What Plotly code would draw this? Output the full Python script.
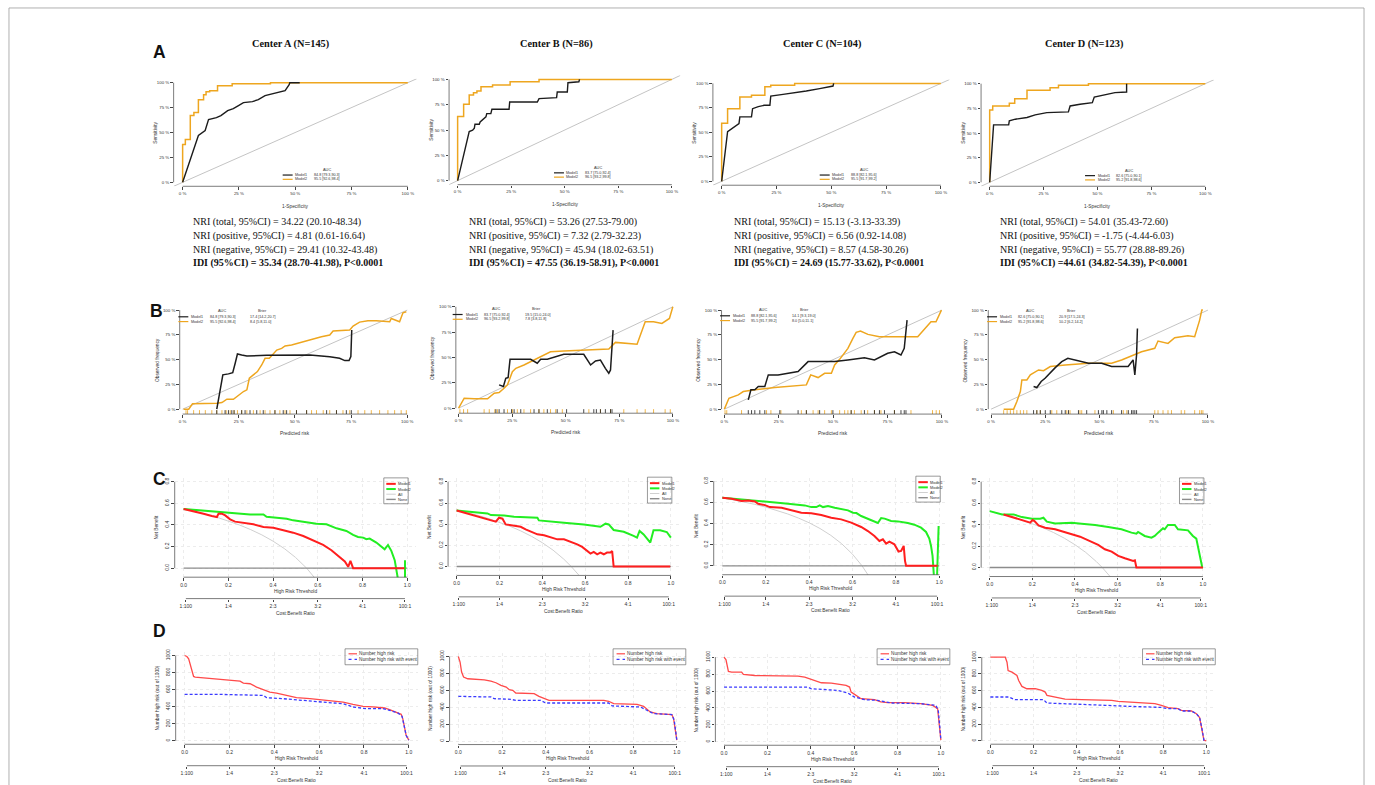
import plotly.graph_objects as go

W, H = 1375, 785
SANS = "Liberation Sans, Arial, sans-serif"
SERIF = "Liberation Serif, Times New Roman, serif"

# ======================= TEXT =======================
panel_letters = ["A", "B", "C", "D"]
center_titles = ["Center A (N=145)", "Center B (N=86)", "Center C (N=104)", "Center D (N=123)"]
nri_total_txt = ["NRI (total, 95%CI) = 34.22 (20.10-48.34)", "NRI (total, 95%CI) = 53.26 (27.53-79.00)",
                 "NRI (total, 95%CI) = 15.13 (-3.13-33.39)", "NRI (total, 95%CI) = 54.01 (35.43-72.60)"]
nri_pos_txt = ["NRI (positive, 95%CI) = 4.81 (0.61-16.64)", "NRI (positive, 95%CI) = 7.32 (2.79-32.23)",
               "NRI (positive, 95%CI) = 6.56 (0.92-14.08)", "NRI (positive, 95%CI) = -1.75 (-4.44-6.03)"]
nri_neg_txt = ["NRI (negative, 95%CI) = 29.41 (10.32-43.48)", "NRI (negative, 95%CI) = 45.94 (18.02-63.51)",
               "NRI (negative, 95%CI) = 8.57 (4.58-30.26)", "NRI (negative, 95%CI) = 55.77 (28.88-89.26)"]
idi_txt = ["IDI (95%CI) = 35.34 (28.70-41.98), P&lt;0.0001", "IDI (95%CI) = 47.55 (36.19-58.91), P&lt;0.0001",
           "IDI (95%CI) = 24.69 (15.77-33.62), P&lt;0.0001", "IDI (95%CI) =44.61 (34.82-54.39), P&lt;0.0001"]
auc_m1 = ["84.8 [79.3,90.3]", "83.7 [75.0,92.4]", "88.8 [82.1,95.6]", "82.6 [75.0,90.1]"]
auc_m2 = ["95.5 [92.6,98.4]", "96.5 [93.2,99.8]", "95.5 [91.7,99.2]", "95.2 [91.8,98.6]"]
brier_m1 = ["17.4 [14.2,20.7]", "19.5 [15.0,24.0]", "14.1 [9.3,19.0]", "20.9 [17.5,24.3]"]
brier_m2 = ["8.4 [5.8,11.0]", "7.8 [3.8,11.8]", "8.0 [5.0,11.1]", "10.2 [6.2,14.2]"]

# ======================= ROC (percent) =======================
roc_ticks = [0, 25, 50, 75, 100]
roc_labels = ["0 %", "25 %", "50 %", "75 %", "100 %"]
roc_range = [-4, 104]
diag_ref = [0, 100]

roc_a_m1_fpr = [0, 7, 10, 11.5, 15, 17, 20, 22.5, 24.8, 27, 31, 33.6, 36.6, 40, 43, 45.5, 47.3, 47.6, 52]
roc_a_m1_tpr = [0, 47, 52, 63, 65, 67, 72, 74, 77, 80, 81, 83, 87, 89, 90, 92, 98, 100, 100]
roc_a_m2_fpr = [0, 0, 1.2, 3.4, 5, 7, 9.3, 10.4, 12, 15.5, 22, 39, 100]
roc_a_m2_tpr = [0, 38, 43, 67, 70, 83, 88, 91, 92, 97, 99, 100, 100]

roc_b_m1_fpr = [0, 5.4, 7, 7.8, 8.1, 10.1, 10.5, 12.1, 13.2, 13.6, 15.5, 16, 24, 24.3, 37.2, 38, 46.2, 46.5, 51.2, 51.5, 56.6, 56.9]
roc_b_m1_tpr = [0, 48.5, 49.8, 51.8, 55.7, 55.7, 58, 60.7, 63, 66.2, 66.2, 70.5, 70.5, 77.7, 77.7, 81, 82, 87.5, 87.5, 96.7, 97.7, 100]
roc_b_m2_fpr = [0, 0, 2.8, 5.4, 7.4, 9, 10.9, 16.3, 24.5, 38, 100]
roc_b_m2_tpr = [0, 63.3, 75.4, 84.6, 86.9, 88.5, 92.8, 94.4, 97.7, 100, 100]

roc_c_m1_fpr = [0, 2.7, 7.9, 8.3, 13.6, 14.1, 16.7, 19.4, 22, 22.4, 28, 34.1, 38.6, 44.7, 50.8, 51.1]
roc_c_m1_tpr = [0, 50.8, 59, 65.8, 65.8, 74.2, 76.3, 77.6, 77.6, 87.1, 88.8, 90.5, 92.2, 94.6, 97.3, 100]
roc_c_m2_fpr = [0, 0, 2.7, 8.3, 13.6, 19.7, 22.4, 33.3, 100]
roc_c_m2_tpr = [0, 59.3, 74.2, 86.1, 87.8, 96.6, 98, 100, 100]

roc_d_m1_fpr = [0, 1.8, 8.8, 9.1, 11.9, 17.3, 21.1, 26.5, 36.5, 37.3, 41.9, 47.6, 48.5, 53.5, 58.1, 63.5, 63.5]
roc_d_m1_tpr = [0, 58.2, 58.2, 62.3, 64, 65.7, 68.4, 70.7, 71.4, 77.4, 79.1, 80.8, 86.5, 88.6, 90.9, 91.6, 100]
roc_d_m2_fpr = [0, 0, 1.4, 9.1, 11.6, 17.3, 28, 31.9, 45.8, 100]
roc_d_m2_tpr = [0, 73.4, 77.4, 80.1, 84.8, 93.3, 96, 98.3, 100, 100]

# ======================= Calibration (percent) =======================
cal_xrange = [-1.3, 101.3]
cal_yrange = [-5, 104]
cal_a_m1_x = [15.2, 16.4, 17.9, 20.4, 22.3, 23.4, 24.4, 26.3, 28.6, 37.4, 44.8, 56.7, 65.5, 69.9, 72.2, 74.1, 74.9, 75.3]
cal_a_m1_y = [0, 16.1, 34.6, 35.6, 36.9, 46.3, 55.7, 54.7, 53.7, 54.4, 54.7, 54.7, 53, 51.3, 49, 49, 53, 79.9]
cal_a_m2_x = [0.4, 2.7, 4.4, 7.1, 11.5, 15.2, 17.5, 19.7, 22.6, 24.1, 25.6, 27.1, 28.6, 29.7, 31.5, 33.3, 35.2, 36.7, 38.6,
              40.1, 41.9, 44.1, 45.6, 48.5, 52.2, 56.7, 61.8, 65.5, 67, 74.4, 75.9, 78.8, 82.5, 86.2, 92.2, 92.9, 96.6, 98.1, 99.6]
cal_a_m2_y = [0, 0, 5.4, 5.4, 5.4, 6, 6.7, 10, 10, 12.8, 15.1, 17.8, 19.5, 31.2, 34.6, 37.9, 44.6, 51.3, 51.3,
              54.7, 59.7, 61.4, 63.8, 64.8, 67.1, 70.5, 73.2, 74.8, 78.9, 79.9, 83.9, 87.9, 89.3, 89.3, 88.3, 91.6, 88.3, 97.3, 98.3]
rug_a_m1 = [15.2, 18.9, 20.4, 21.9, 22.9, 26.3, 27.8, 30, 33, 35.9, 41.1, 44.8, 46.3, 50.7, 55.2, 64.1, 68.5, 72.9, 75.1]
rug_a_m2 = [1.5, 2.2, 4.9, 7.5, 10.1, 13, 15.2, 17.5, 19.4, 21.2, 22.9, 24.4, 26.3, 28.6, 31.5, 34.5, 36.7, 38.9, 41.1, 43.3,
            45.6, 47.8, 50.7, 55.2, 57.4, 59.6, 62.6, 65.5, 68.5, 71.4, 74.4, 78.1, 81.1, 84, 87.7, 91.4, 94.4, 97.3, 99.6]

cal_b_m1_x = [18.9, 20.9, 22, 23.1, 24, 30.5, 33.6, 36.7, 38.3, 41.4, 46, 49.1, 58.4, 61.6, 63.9, 66.2, 68.5, 70.1, 70.9, 71.6, 72.1]
cal_b_m1_y = [23, 21.3, 29.5, 30.2, 48.2, 48.2, 48.2, 44.3, 48.2, 48.2, 50.8, 53.1, 53.1, 42.6, 46.6, 47.5, 39.3, 34.4, 37.7, 59, 77]
cal_b_m2_x = [0, 2.6, 7.3, 13.5, 16.6, 18.9, 21.2, 22.8, 25.1, 26.7, 30.5, 36.7, 39.8, 42.9, 49.1, 61.6, 70.1, 73.2, 83.3, 87.1, 91, 94.9, 98.4, 100]
cal_b_m2_y = [0, 9.8, 9.2, 9.2, 14.8, 15.4, 19.7, 23, 36, 39.3, 42.6, 49.2, 52.5, 55.7, 56.4, 57.4, 58.4, 64.9, 63, 85.2, 85.2, 83.6, 88.5, 100]
rug_b_m1 = [17.4, 18.9, 21.2, 24.7, 25.9, 29, 35.2, 37.5, 41.4, 46, 50.4, 58.4, 63.1, 64.3, 66.2, 68.5, 70.9, 71.6]
rug_b_m2 = [0.6, 2.3, 4.2, 11.9, 14.3, 16.9, 18.1, 22.8, 25.1, 27.4, 30.5, 33.6, 37.5, 39.8, 42.9, 45.3, 48.4,
            60.8, 66.2, 70.9, 77.1, 83.3, 87.1, 91, 96.4, 98.8]

cal_c_m1_x = [11, 12.2, 14, 15.6, 18.6, 20.2, 24.7, 33.9, 38.5, 44.6, 50.7, 56.8, 64.4, 69, 75.1, 78.2, 81.2, 82.7, 84]
cal_c_m1_y = [9.4, 19.5, 19.5, 22.8, 22.8, 34.6, 34.6, 37.9, 48, 48, 48, 49.7, 52, 49.7, 56.4, 58, 54.7, 61.4, 89.9]
cal_c_m2_x = [0, 2.1, 6.4, 8.7, 14, 23.2, 37.7, 39.7, 43.1, 46.1, 49.2, 50.7, 53, 56.8, 59.1, 60.6, 62.6, 66, 71.3, 78.2, 88.9, 95, 97.3, 99.8]
cal_c_m2_y = [0, 11, 14.4, 17.8, 19.5, 21.8, 24.5, 34.6, 31.9, 36.2, 36.2, 44.6, 50.3, 61.4, 71.5, 77.5, 78.9, 75.5, 73.2, 73.2, 73.2, 88.3, 88.3, 100]
rug_c_m1 = [11, 12.5, 14, 16.3, 18.6, 25.5, 33.9, 37.7, 43.8, 49.9, 58.3, 64.4, 69, 71.3, 73.6, 78.2, 81.2, 82.7, 83.5]
rug_c_m2 = [0.3, 1.1, 7.9, 19.4, 21.4, 26, 35.4, 37.7, 40.8, 43.1, 46.1, 49.2, 53, 55.3, 56.8, 58.3, 59.8, 62.9, 65.9,
            69, 72, 78.2, 85.8, 95.7, 97.4, 98.9]

cal_d_m1_x = [19.6, 21.1, 23.1, 24.9, 29.6, 32.6, 35.4, 38.7, 44.9, 51, 55.6, 63.2, 65.5, 66.3, 67.1, 67.5]
cal_d_m1_y = [22.8, 21.8, 27.9, 31.2, 41.9, 48, 51.3, 49.7, 46.3, 46.3, 43, 43, 49.7, 34.6, 54.7, 81.5]
cal_d_m2_x = [5.8, 10.4, 11.9, 13.5, 14.2, 16.5, 18.1, 21.9, 24.2, 27.3, 34.2, 44.9, 55.6, 60.2, 69.4, 75.5, 77, 81.6, 84.7, 90.8, 93.9, 96.2, 97.2, 97.7]
cal_d_m2_y = [0, 0, 7.7, 17.8, 29.5, 29.5, 34.6, 39.6, 38.9, 43, 44.6, 46.3, 46.3, 49.7, 58, 61.4, 68.8, 66.4, 72.1, 74.2, 73.2, 89.9, 100, 100]
rug_d_m1 = [19.6, 21.1, 22.7, 25, 27.3, 32.6, 34.2, 35.7, 40.3, 44.1, 49.5, 51.1, 51.8, 53.4, 55.6, 60.2, 63.3, 64.8, 65.5, 66.3, 67.1]
rug_d_m2 = [5.8, 7.4, 8.9, 10.4, 11.9, 13.5, 15, 16.5, 21.1, 22.7, 28, 30.3, 34.9, 36.4, 41, 41.8, 47.9, 56.4, 61, 62.6,
            75.5, 77, 79.3, 81.6, 83.2, 87.7, 89.3, 93.9, 96.2, 97, 97.7]

# ======================= Decision curves =======================
thr_ticks = [0, 0.2, 0.4, 0.6, 0.8, 1.0]
thr_labels = ["0.0", "0.2", "0.4", "0.6", "0.8", "1.0"]
nb_ticks = [0, 0.2, 0.4, 0.6, 0.8]
nb_labels = ["0.0", "0.2", "0.4", "0.6", "0.8"]
cb_ticks = [0.01, 0.2, 0.4, 0.6, 0.8, 0.99]
cb_labels = ["1:100", "1:4", "2:3", "3:2", "4:1", "100:1"]
none_thr = [0, 1]
none_nb = [0, 0]

dca_a_m1_t = [0, .045, .089, .126, .149, .156, .171, .186, .208, .230, .267, .312, .357, .401, .446, .490, .535, .580, .624, .661, .691, .721, .736, .746, .758, .988]
dca_a_m1_nb = [.549, .529, .505, .483, .474, .505, .505, .489, .452, .431, .422, .406, .382, .375, .351, .329, .298, .258, .215, .166, .114, .062, .012, .068, 0, 0]
dca_a_m2_t = [0, .074, .149, .223, .297, .357, .371, .416, .461, .490, .535, .594, .639, .684, .728, .758, .780, .803, .817, .832, .862, .892, .899, .914, .929, .944, .951, .963, .975, .99, .99]
dca_a_m2_nb = [.549, .537, .522, .508, .498, .498, .477, .468, .458, .443, .428, .412, .406, .369, .345, .308, .289, .283, .268, .274, .237, .191, .175, .215, .160, .074, 0, -.09, -.3, -.3, .074]
dca_a_all_t = [0, .05, .1, .15, .2, .25, .3, .35, .4, .45, .5, .525, .55, .6]
dca_a_all_nb = [.55, .526, .50, .471, .4375, .40, .357, .308, .25, .182, .10, .053, 0, -.125]

dca_b_m1_t = [0, .082, .129, .183, .198, .214, .229, .267, .299, .322, .346, .377, .408, .439, .470, .501, .532, .563, .586, .609, .625, .640, .656, .671, .687, .702, .718, .726, .733, .997]
dca_b_m1_nb = [.530, .483, .455, .424, .461, .452, .398, .389, .376, .351, .329, .304, .295, .279, .257, .257, .235, .210, .185, .147, .122, .138, .116, .132, .116, .132, .132, .147, 0, 0]
dca_b_m2_t = [0, .082, .144, .160, .222, .268, .299, .377, .384, .408, .439, .501, .594, .671, .695, .710, .733, .780, .826, .842, .854, .873, .904, .919, .950, .981, 1.0]
dca_b_m2_nb = [.530, .515, .502, .486, .483, .471, .467, .461, .436, .430, .424, .414, .398, .376, .405, .398, .345, .329, .289, .273, .336, .304, .226, .342, .342, .326, .273]
dca_b_all_t = [0, .05, .1, .15, .2, .25, .3, .35, .4, .45, .5, .535, .57]
dca_b_all_nb = [.535, .511, .483, .453, .419, .38, .336, .285, .225, .155, .07, 0, -.08]

dca_c_m1_t = [0, .043, .089, .119, .150, .165, .196, .219, .273, .318, .364, .41, .456, .502, .548, .594, .640, .671, .701, .724, .740, .755, .770, .793, .812, .824, .836, .842, .847, .992]
dca_c_m1_nb = [.643, .634, .612, .618, .608, .587, .574, .555, .549, .524, .502, .496, .480, .455, .439, .408, .367, .329, .282, .235, .251, .210, .229, .204, .135, .141, .188, .047, 0, 0]
dca_c_m2_t = [0, .089, .196, .303, .380, .410, .433, .449, .464, .487, .518, .564, .579, .602, .618, .640, .686, .717, .732, .748, .778, .809, .855, .885, .916, .939, .954, .962, .969, .977, .989, .995, .997]
dca_c_m2_nb = [.643, .628, .606, .587, .571, .555, .555, .571, .555, .565, .549, .533, .524, .502, .499, .471, .430, .405, .452, .446, .424, .420, .405, .389, .361, .320, .257, .188, .094, -.15, -.15, .267, .377]
dca_c_all_t = [0, .05, .1, .15, .2, .25, .3, .35, .4, .45, .5, .55, .6, .644, .68]
dca_c_all_nb = [.644, .625, .604, .581, .555, .525, .491, .452, .407, .353, .288, .209, .11, 0, -.112]

dca_d_m1_t = [.065, .112, .151, .190, .201, .210, .229, .260, .307, .338, .385, .424, .447, .478, .509, .540, .572, .603, .634, .657, .673, .681, .688, 1.0]
dca_d_m1_nb = [.496, .465, .443, .419, .443, .434, .394, .372, .357, .341, .310, .288, .264, .239, .211, .171, .149, .109, .087, .068, .062, .068, 0, 0]
dca_d_m2_t = [0, .058, .112, .151, .198, .237, .252, .268, .307, .354, .385, .431, .494, .556, .618, .665, .688, .696, .727, .759, .774, .790, .805, .813, .821, .836, .868, .883, .930, .953, .969, .984, .997]
dca_d_m2_nb = [.527, .496, .496, .471, .456, .456, .465, .428, .412, .412, .419, .409, .397, .378, .357, .326, .316, .332, .295, .279, .295, .326, .347, .366, .357, .397, .397, .357, .347, .295, .270, .124, 0]
dca_d_all_t = [0, .05, .1, .15, .2, .25, .3, .35, .4, .45, .5, .528, .565, .58]
dca_d_all_nb = [.528, .503, .476, .445, .41, .371, .326, .274, .213, .142, .056, 0, -.085, -.124]

# ======================= Clinical impact =======================
ci_ticks = [0, 200, 400, 600, 800, 1000]
ci_labels = ["0", "200", "400", "600", "800", "1000"]

ci_a_hr_t = [0, .01, .018, .025, .033, .04, .047, .084, .144, .188, .233, .247, .262, .292, .321, .351, .38, .41, .455, .499, .559, .618, .661, .707, .751, .796, .84, .892, .914, .944, .966, .973, .981, .988, 1.0]
ci_a_hr = [1000, 988, 961, 903, 825, 755, 747, 739, 728, 716, 708, 700, 677, 669, 630, 603, 572, 560, 533, 506, 494, 482, 467, 455, 428, 405, 397, 385, 366, 339, 311, 261, 163, 66, 8]
ci_a_ev_t = [0, .144, .351, .366, .44, .514, .588, .661, .707, .751, .81, .884, .914, .951, .97, .981, .988, 1.0]
ci_a_ev = [545, 545, 533, 506, 494, 475, 455, 444, 436, 397, 377, 377, 358, 327, 288, 163, 66, 8]

ci_b_hr_t = [0, .008, .015, .024, .043, .119, .149, .172, .195, .219, .233, .249, .263, .347, .369, .392, .415, .666, .688, .711, .818, .848, .878, .909, .977, .985, .992, 1.0]
ci_b_hr = [1000, 933, 816, 757, 737, 725, 710, 690, 659, 639, 608, 600, 569, 561, 529, 510, 482, 482, 471, 443, 435, 412, 345, 325, 314, 267, 169, 12]
ci_b_ev_t = [0, .149, .164, .24, .263, .377, .40, .688, .704, .833, .863, .894, .977, .988, .994, 1.0]
ci_b_ev = [529, 522, 502, 494, 482, 482, 451, 451, 416, 404, 365, 325, 314, 247, 129, 12]

ci_c_hr_t = [0, .009, .02, .035, .081, .089, .142, .341, .372, .403, .433, .449, .495, .54, .563, .579, .586, .602, .632, .694, .723, .755, .832, .908, .962, .985, .992, 1.0]
ci_c_hr = [1000, 969, 831, 824, 824, 796, 784, 776, 765, 737, 706, 698, 694, 678, 667, 647, 588, 561, 510, 498, 471, 463, 463, 451, 431, 392, 216, 20]
ci_c_ev_t = [0, .387, .403, .479, .525, .571, .602, .648, .709, .77, .908, .977, .988, .995, 1.0]
ci_c_ev = [647, 647, 627, 620, 608, 576, 529, 498, 490, 459, 451, 431, 373, 176, 20]

ci_d_hr_t = [0, .069, .077, .082, .1, .123, .131, .146, .169, .208, .238, .254, .262, .3, .346, .423, .562, .592, .638, .7, .762, .792, .823, .869, .885, .931, .954, .969, .98, .989, 1.0]
ci_d_hr = [1000, 1000, 940, 841, 821, 782, 722, 651, 623, 623, 603, 583, 544, 524, 500, 492, 484, 472, 464, 452, 444, 425, 397, 385, 365, 357, 325, 278, 147, 8, 0]
ci_d_ev_t = [0, .085, .115, .246, .262, .377, .531, .638, .7, .792, .823, .869, .885, .931, .954, .969, .98, .989, 1.0]
ci_d_ev = [524, 524, 492, 492, 452, 444, 425, 413, 405, 400, 385, 385, 357, 357, 325, 278, 147, 8, 0]

# ======================= COLLECTIONS =======================
roc_series = [(roc_a_m1_fpr, roc_a_m1_tpr, roc_a_m2_fpr, roc_a_m2_tpr),
              (roc_b_m1_fpr, roc_b_m1_tpr, roc_b_m2_fpr, roc_b_m2_tpr),
              (roc_c_m1_fpr, roc_c_m1_tpr, roc_c_m2_fpr, roc_c_m2_tpr),
              (roc_d_m1_fpr, roc_d_m1_tpr, roc_d_m2_fpr, roc_d_m2_tpr)]
cal_series = [(cal_a_m1_x, cal_a_m1_y, cal_a_m2_x, cal_a_m2_y, rug_a_m1, rug_a_m2),
              (cal_b_m1_x, cal_b_m1_y, cal_b_m2_x, cal_b_m2_y, rug_b_m1, rug_b_m2),
              (cal_c_m1_x, cal_c_m1_y, cal_c_m2_x, cal_c_m2_y, rug_c_m1, rug_c_m2),
              (cal_d_m1_x, cal_d_m1_y, cal_d_m2_x, cal_d_m2_y, rug_d_m1, rug_d_m2)]
dca_series = [(dca_a_m1_t, dca_a_m1_nb, dca_a_m2_t, dca_a_m2_nb, dca_a_all_t, dca_a_all_nb),
              (dca_b_m1_t, dca_b_m1_nb, dca_b_m2_t, dca_b_m2_nb, dca_b_all_t, dca_b_all_nb),
              (dca_c_m1_t, dca_c_m1_nb, dca_c_m2_t, dca_c_m2_nb, dca_c_all_t, dca_c_all_nb),
              (dca_d_m1_t, dca_d_m1_nb, dca_d_m2_t, dca_d_m2_nb, dca_d_all_t, dca_d_all_nb)]
ci_series = [(ci_a_hr_t, ci_a_hr, ci_a_ev_t, ci_a_ev), (ci_b_hr_t, ci_b_hr, ci_b_ev_t, ci_b_ev),
             (ci_c_hr_t, ci_c_hr, ci_c_ev_t, ci_c_ev), (ci_d_hr_t, ci_d_hr, ci_d_ev_t, ci_d_ev)]

# ======================= GEOMETRY (pixel positions of tick anchors) =======================
roc_geo = [((182.3, 0, 408.3, 100), (180, 0, 80, 100)), ((458.3, 0, 673.3, 100), (178.3, 0, 76.7, 100)),
           ((723.3, 0, 943.3, 100), (179, 0, 80.7, 100)), ((992.3, 0, 1208.7, 100), (180, 0, 81, 100))]
cal_geo = [((182.3, 0, 407.7, 100), (407.7, 0, 308.3, 100)), ((459.3, 0, 674.3, 100), (406.7, 0, 305, 100)),
           ((726, 0, 944.3, 100), (407.7, 0, 308.3, 100)), ((993.7, 0, 1211.3, 100), (407.7, 0, 308.3, 100))]
dca_geo = [((183.3, 0, 407.7, 1), (567.3, 0, 480.7, 0.8)), ((457.3, 0, 672.3, 1), (565.7, 0, 480.7, 0.8)),
           ((724, 0, 941.7, 1), (565, 0, 480, 0.8)), ((992.3, 0, 1206.3, 1), (566.7, 0, 480.7, 0.8))]
ci_geo = [((184.3, 0, 409.3, 1), (740.7, 0, 655, 1000)), ((459, 0, 678.3, 1), (741, 0, 656, 1000)),
          ((725.7, 0, 943.3, 1), (741.7, 0, 656.7, 1000)), ((993, 0, 1209.7, 1), (740.7, 0, 656.7, 1000))]
title_x = [291, 558, 824, 1087]
nri_x = [192, 468.3, 735, 1002]
nri_y = [220, 234, 247.5, 261]
letter_x = [159, 156, 159, 159]
letter_y = [49, 309, 478, 630]
roc_leg = [(282.7, 172.7), (555, 170.5), (821.7, 172.7), (1088, 173.3)]
cal_leg = [(178, 315), (453.3, 312.7), (721.7, 314), (989.7, 315)]
dca_box_top = [476.7, 476, 475, 476.7]

C_M1 = "#1c1c1c"
C_M2 = "#EEA61F"
C_RED = "#FF1E1E"
C_GREEN = "#22EE22"
C_ALL = "#d0d0d0"
C_NONE = "#8c8c8c"
C_CIR = "#FF4a4a"
C_CIB = "#3a3aFF"
C_AX = "#444444"
C_TXT = "#333333"

fig = go.Figure()
layout = dict(width=W, height=H, margin=dict(l=0, r=0, t=0, b=0), paper_bgcolor="white",
              plot_bgcolor="rgba(0,0,0,0)", showlegend=False, font=dict(family=SANS, color=C_TXT))
shapes, annotations = [], []
counter = {"n": 0}


def seg(x0, y0, x1, y1, color=C_AX, width=0.7, dash="solid"):
    shapes.append(dict(type="line", xref="paper", yref="paper", x0=x0 / W, x1=x1 / W, y0=1 - y0 / H, y1=1 - y1 / H,
                       line=dict(color=color, width=width, dash=dash)))


def rect(x0, y0, x1, y1, color="#555", width=0.6):
    shapes.append(dict(type="rect", xref="paper", yref="paper", x0=x0 / W, x1=x1 / W, y0=1 - y1 / H, y1=1 - y0 / H,
                       line=dict(color=color, width=width), fillcolor="rgba(0,0,0,0)"))


def text(px, py, s, size, xanchor="center", angle=0, family=SANS, color=C_TXT):
    annotations.append(dict(x=px / W, y=1 - py / H, xref="paper", yref="paper", text=s, showarrow=False,
                            xanchor=xanchor, yanchor="middle", textangle=angle, borderpad=0,
                            font=dict(size=size, family=family, color=color)))


def axis_style(tv, tt, size, angle=0, grid=False):
    return dict(tickmode="array", tickvals=tv, ticktext=tt, ticks="outside", ticklen=2.5, tickwidth=0.6,
                tickcolor=C_AX, tickfont=dict(family=SANS, size=size, color=C_TXT), tickangle=angle,
                showline=False, zeroline=False, showgrid=grid, gridcolor="#ececec", griddash="dot",
                gridwidth=0.6, fixedrange=True)


def new_axes(xg, yg, xr, yr, xt, xtt, yt, ytt, tfs, yangle=0, grid=False):
    counter["n"] += 1
    n = counter["n"]
    sfx = "" if n == 1 else str(n)
    xpa, xva, xpb, xvb = xg
    ypa, yva, ypb, yvb = yg
    kx = (xpb - xpa) / (xvb - xva)
    ky = (ypa - ypb) / (yvb - yva)

    def X(v):
        return xpa + (v - xva) * kx

    def Y(v):
        return ypa - (v - yva) * ky

    left, right, bottom, top = X(xr[0]), X(xr[1]), Y(yr[0]), Y(yr[1])
    layout["xaxis" + sfx] = dict(domain=[left / W, right / W], range=list(xr), anchor="y" + sfx,
                                 **axis_style(xt, xtt, tfs, 0, grid))
    layout["yaxis" + sfx] = dict(domain=[1 - bottom / H, 1 - top / H], range=list(yr), anchor="x" + sfx,
                                 **axis_style(yt, ytt, tfs, yangle, grid))
    seg(X(xt[0]), bottom, X(xt[-1]), bottom)
    seg(left, Y(yt[0]), left, Y(yt[-1]))
    return dict(xa="x" + sfx, ya="y" + sfx, X=X, Y=Y, left=left, right=right, top=top, bottom=bottom)


def add_line(p, x, y, color, width, dash="solid", shape="linear"):
    fig.add_trace(go.Scatter(x=x, y=y, xaxis=p["xa"], yaxis=p["ya"], mode="lines",
                             line=dict(color=color, width=width, dash=dash, shape=shape),
                             hoverinfo="skip", showlegend=False))


def add_rug(p, vals, color, y0, y1):
    xs, ys = [], []
    for v in vals:
        xs += [v, v, None]
        ys += [y0, y1, None]
    add_line(p, xs, ys, color, 0.8)


def add_cb_axis(p, xr):
    counter["n"] += 1
    n = counter["n"]
    pos_px = p["bottom"] + 21.5
    layout["xaxis" + str(n)] = dict(overlaying=p["xa"], anchor="free", position=1 - pos_px / H, range=list(xr),
                                    side="bottom", **axis_style(cb_ticks, cb_labels, 5))
    fig.add_trace(go.Scatter(x=cb_ticks, y=[None] * len(cb_ticks), xaxis="x" + str(n), yaxis=p["ya"],
                             mode="lines", hoverinfo="skip", showlegend=False))
    seg(p["X"](cb_ticks[0]), pos_px, p["X"](cb_ticks[-1]), pos_px)


# ---------------- outer frame, letters, titles ----------------
rect(8, 5, 1368, 792, color="#9a9a9a", width=0.8)
for i, L in enumerate(panel_letters):
    text(letter_x[i], letter_y[i], "<b>" + L + "</b>", 17.5, family=SANS, color="#111")
for i, t in enumerate(center_titles):
    text(title_x[i], 41.5, "<b>" + t + "</b>", 10.3, family=SERIF, color="#111")

# ---------------- Row A: ROC ----------------
for i in range(4):
    m1x, m1y, m2x, m2y = roc_series[i]
    p = new_axes(roc_geo[i][0], roc_geo[i][1], roc_range, roc_range, roc_ticks, roc_labels, roc_ticks, roc_labels, 4.4)
    add_line(p, roc_range, roc_range, "#c4c4c4", 1)
    add_line(p, m2x, m2y, C_M2, 1.5, shape="hv")
    add_line(p, m1x, m1y, C_M1, 1.4)
    text(p["left"] - 18.5, (p["top"] + p["bottom"]) / 2, "Sensitivity", 4.8, angle=-90)
    text(p["X"](50), p["bottom"] + 20, "1-Specificity", 4.8)
    lx, ly = roc_leg[i]
    text(lx + 44, ly - 5.2, "AUC", 3.9)
    seg(lx, ly, lx + 10, ly, C_M1, 1.2)
    seg(lx, ly + 4.3, lx + 10, ly + 4.3, C_M2, 1.2)
    text(lx + 11.5, ly, "Model1", 3.7, xanchor="left")
    text(lx + 11.5, ly + 4.3, "Model2", 3.7, xanchor="left")
    text(lx + 30, ly, auc_m1[i], 3.7, xanchor="left")
    text(lx + 30, ly + 4.3, auc_m2[i], 3.7, xanchor="left")
    for k, s in enumerate([nri_total_txt[i], nri_pos_txt[i], nri_neg_txt[i]]):
        text(nri_x[i], nri_y[k], s, 10, xanchor="left", family=SERIF, color="#111")
    text(nri_x[i], nri_y[3], "<b>" + idi_txt[i] + "</b>", 10, xanchor="left", family=SERIF, color="#111")

# ---------------- Row B: calibration ----------------
for i in range(4):
    m1x, m1y, m2x, m2y, r1, r2 = cal_series[i]
    p = new_axes(cal_geo[i][0], cal_geo[i][1], cal_xrange, cal_yrange, roc_ticks, roc_labels, roc_ticks, roc_labels, 4.4)
    add_line(p, diag_ref, diag_ref, "#c4c4c4", 1)
    add_rug(p, r2, C_M2, -5, -1)
    add_rug(p, r1, C_M1, -5, -1)
    add_line(p, m2x, m2y, C_M2, 1.5)
    add_line(p, m1x, m1y, C_M1, 1.5)
    text(p["left"] - 23, (p["top"] + p["bottom"]) / 2, "Observed frequency", 4.8, angle=-90)
    text(p["X"](50), p["bottom"] + 19.5, "Predicted risk", 4.8)
    lx, ly = cal_leg[i]
    text(lx + 43.5, ly - 6, "AUC", 3.9)
    text(lx + 84.5, ly - 6, "Brier", 3.9)
    seg(lx, ly, lx + 10, ly, C_M1, 1.2)
    seg(lx, ly + 4.8, lx + 10, ly + 4.8, C_M2, 1.2)
    text(lx + 12, ly, "Model1", 3.7, xanchor="left")
    text(lx + 12, ly + 4.8, "Model2", 3.7, xanchor="left")
    text(lx + 30.3, ly, auc_m1[i], 3.7, xanchor="left")
    text(lx + 30.3, ly + 4.8, auc_m2[i], 3.7, xanchor="left")
    text(lx + 71.3, ly, brier_m1[i], 3.7, xanchor="left")
    text(lx + 71.3, ly + 4.8, brier_m2[i], 3.7, xanchor="left")

# ---------------- Row C: decision curves ----------------
thr_range = [-0.04, 1.04]
nb_range = [-0.084, 0.834]
for i in range(4):
    m1t, m1nb, m2t, m2nb, allt, allnb = dca_series[i]
    p = new_axes(dca_geo[i][0], dca_geo[i][1], thr_range, nb_range, thr_ticks, thr_labels, nb_ticks, nb_labels, 5,
                 yangle=-90, grid=True)
    add_cb_axis(p, thr_range)
    add_line(p, allt, allnb, C_ALL, 1)
    add_line(p, none_thr, none_nb, C_NONE, 1.4)
    add_line(p, m2t, m2nb, C_GREEN, 2)
    add_line(p, m1t, m1nb, C_RED, 2)
    text(p["left"] - 18, (p["top"] + p["bottom"]) / 2, "Net Benefit", 4.8, angle=-90)
    text(p["X"](0.5), p["bottom"] + 14.3, "High Risk Threshold", 4.8)
    text(p["X"](0.5), p["bottom"] + 36.3, "Cost:Benefit Ratio", 4.8)
    bx1 = p["X"](1.0) + 1
    bx0 = bx1 - 24.5
    by0 = dca_box_top[i]
    rect(bx0, by0, bx1, by0 + 26, color="#555", width=0.6)
    items = [("Model1", C_RED, 2), ("Model2", C_GREEN, 2), ("All", C_ALL, 1), ("None", C_NONE, 1.4)]
    for k, (lab, col, wd) in enumerate(items):
        yy = by0 + 6 + k * 5.2
        seg(bx0 + 2.5, yy, bx0 + 12, yy, col, wd)
        text(bx0 + 13.5, yy, lab, 3.9, xanchor="left")

# ---------------- Row D: clinical impact ----------------
ci_range = [-40, 1040]
for i in range(4):
    hrt, hr, evt, ev = ci_series[i]
    p = new_axes(ci_geo[i][0], ci_geo[i][1], thr_range, ci_range, thr_ticks, thr_labels, ci_ticks, ci_labels, 5,
                 yangle=-90, grid=True)
    add_cb_axis(p, thr_range)
    add_line(p, hrt, hr, C_CIR, 1.3)
    add_line(p, evt, ev, C_CIB, 1.3, dash="3px,2px")
    text(p["left"] - 18.5, (p["top"] + p["bottom"]) / 2, "Number high risk (out of 1000)", 4.8, angle=-90)
    text(p["X"](0.5), p["bottom"] + 14.3, "High Risk Threshold", 4.8)
    text(p["X"](0.5), p["bottom"] + 36.3, "Cost:Benefit Ratio", 4.8)
    bx1 = p["X"](1.0) + 9
    bx0 = bx1 - 73
    by0 = 648.3
    rect(bx0, by0, bx1, by0 + 16, color="#555", width=0.6)
    seg(bx0 + 3.5, by0 + 5, bx0 + 12, by0 + 5, C_CIR, 1.2)
    seg(bx0 + 3.5, by0 + 10.5, bx0 + 12, by0 + 10.5, C_CIB, 1.2, dash="dot")
    text(bx0 + 12.8, by0 + 5, "Number high risk", 4.7, xanchor="left")
    text(bx0 + 12.8, by0 + 10.5, "Number high risk with event", 4.7, xanchor="left")

layout["shapes"] = shapes
layout["annotations"] = annotations
fig.update_layout(**layout)
fig.write_html("out.html", config={"displayModeBar": False},
               post_script="document.body.style.margin='0px';document.body.style.overflow='hidden';")
